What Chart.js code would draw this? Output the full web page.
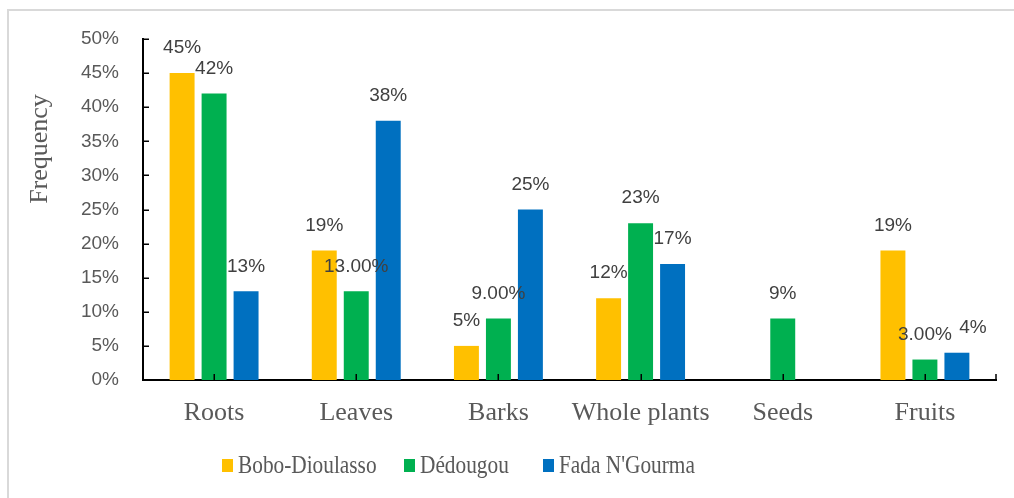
<!DOCTYPE html>
<html>
<head>
<meta charset="utf-8">
<script src="https://cdn.jsdelivr.net/npm/chart.js@4.4.0/dist/chart.umd.min.js"></script>
<style>
  html, body { margin: 0; padding: 0; background: #fff; }
  #wrap { position: relative; width: 1014px; height: 498px; overflow: hidden; }
  #frame { position: absolute; left: 7px; top: 9px; right: 0; bottom: 0;
           border-top: 2px solid #d9d9d9; border-left: 2px solid #d9d9d9; }
  #myChart { position: absolute; left: 0; top: 0; }
  #legend { position: absolute; left: 0; top: 448px; width: 1014px; height: 34px;
            font-family: "Liberation Serif", serif; font-size: 26px; color: #595959; }
  #legend .item { position: absolute; top: 0; height: 34px; display: flex; align-items: center; white-space: nowrap; }
  #legend .box { width: 11px; height: 13px; margin-right: 5px; flex: none; }
  #legend .txt { display: inline-block; transform: scaleX(0.82); transform-origin: 0 50%; }
</style>
</head>
<body>
<div id="wrap">
  <div id="frame"></div>
  <canvas id="myChart" width="1014" height="498"></canvas>
  <div id="legend"></div>
</div>
<script>
const categories = ['Roots', 'Leaves', 'Barks', 'Whole plants', 'Seeds', 'Fruits'];
const seriesNames = ['Bobo-Dioulasso', 'Dédougou', "Fada N'Gourma"];
const seriesColors = ['#FFC000', '#00B050', '#0070C0'];

// values in percent, null = no bar
const boboValues = [45, 19, 5, 12, null, 19];
const dedougouValues = [42, 13, 9, 23, 9, 3];
const fadaValues = [13, 38, 25, 17, null, 4];

// decimals shown in the data labels
const boboDecimals = [0, 0, 0, 0, 0, 0];
const dedougouDecimals = [0, 2, 2, 0, 0, 2];
const fadaDecimals = [0, 0, 0, 0, 0, 0];

const yMax = 50;
const yStep = 5;

const allValues = [boboValues, dedougouValues, fadaValues];
const allDecimals = [boboDecimals, dedougouDecimals, fadaDecimals];

const extras = {
  id: 'extras',
  afterDatasetsDraw(chart) {
    const ctx = chart.ctx;
    const area = chart.chartArea;
    const xs = chart.scales.x, ys = chart.scales.y;
    ctx.save();
    // inward tick marks
    ctx.strokeStyle = '#000';
    ctx.lineWidth = 1.5;
    ctx.beginPath();
    ys.ticks.forEach(t => {
      const py = Math.round(ys.getPixelForValue(t.value)) + 0.25;
      ctx.moveTo(area.left, py);
      ctx.lineTo(area.left + 6, py);
    });
    categories.forEach((c, i) => {
      const px = Math.round(xs.getPixelForValue(i)) + 0.25;
      ctx.moveTo(px, area.bottom);
      ctx.lineTo(px, area.bottom - 6);
    });
    ctx.moveTo(area.right, area.bottom);
    ctx.lineTo(area.right, area.bottom - 6);
    ctx.stroke();

    // data labels
    ctx.font = '19px "Liberation Sans"';
    ctx.fillStyle = '#404040';
    ctx.textAlign = 'center';
    ctx.textBaseline = 'middle';
    chart.data.datasets.forEach((ds, di) => {
      chart.getDatasetMeta(di).data.forEach((bar, i) => {
        const v = ds.data[i];
        if (v == null) return;
        const txt = v.toFixed(allDecimals[di][i]) + '%';
        const shift = (di === 2 && i === 5) ? 16 : 0; // Fruits / Fada label sits to the right
        ctx.fillText(txt, bar.x + shift, bar.y - 25);
      });
    });

    // y axis title
    ctx.font = '26px "Liberation Serif"';
    ctx.fillStyle = '#595959';
    ctx.translate(40, 149);
    ctx.rotate(-Math.PI / 2);
    ctx.fillText('Frequency', 0, 0);
    ctx.restore();
  }
};

const ctx = document.getElementById('myChart').getContext('2d');
const chart = new Chart(ctx, {
  type: 'bar',
  data: {
    labels: categories,
    datasets: seriesNames.map((name, i) => ({
      label: name,
      data: allValues[i],
      backgroundColor: seriesColors[i],
      borderWidth: 0,
      categoryPercentage: 0.675,
      barPercentage: 0.78
    }))
  },
  options: {
    responsive: false,
    animation: false,
    layout: { padding: { top: 39, right: 18, bottom: 58, left: 0 } },
    plugins: {
      legend: { display: false },
      tooltip: { enabled: false }
    },
    scales: {
      x: {
        grid: { display: false, drawTicks: false },
        border: { display: true, color: '#000', width: 2 },
        ticks: {
          padding: 18,
          autoSkip: false,
          minRotation: 0,
          maxRotation: 0,
          color: '#595959',
          font: { family: 'Liberation Serif', size: 26 }
        },
        afterFit(scale) { scale.height = 60; }
      },
      y: {
        min: 0,
        max: yMax,
        grid: { display: false, drawTicks: false },
        border: { display: true, color: '#000', width: 2 },
        ticks: {
          stepSize: yStep,
          padding: 24,
          color: '#595959',
          font: { family: 'Liberation Sans', size: 19 },
          callback: v => v + '%'
        },
        afterFit(scale) { scale.width = 143; }
      }
    }
  },
  plugins: [extras]
});

// legend built from the series lists
const legendEl = document.getElementById('legend');
const legendLeft = [222, 404, 543];
seriesNames.forEach((name, i) => {
  const item = document.createElement('div');
  item.className = 'item';
  item.style.left = legendLeft[i] + 'px';
  const box = document.createElement('span');
  box.className = 'box';
  box.style.background = seriesColors[i];
  const txt = document.createElement('span');
  txt.className = 'txt';
  txt.textContent = name;
  item.appendChild(box);
  item.appendChild(txt);
  legendEl.appendChild(item);
});
</script>
</body>
</html>
